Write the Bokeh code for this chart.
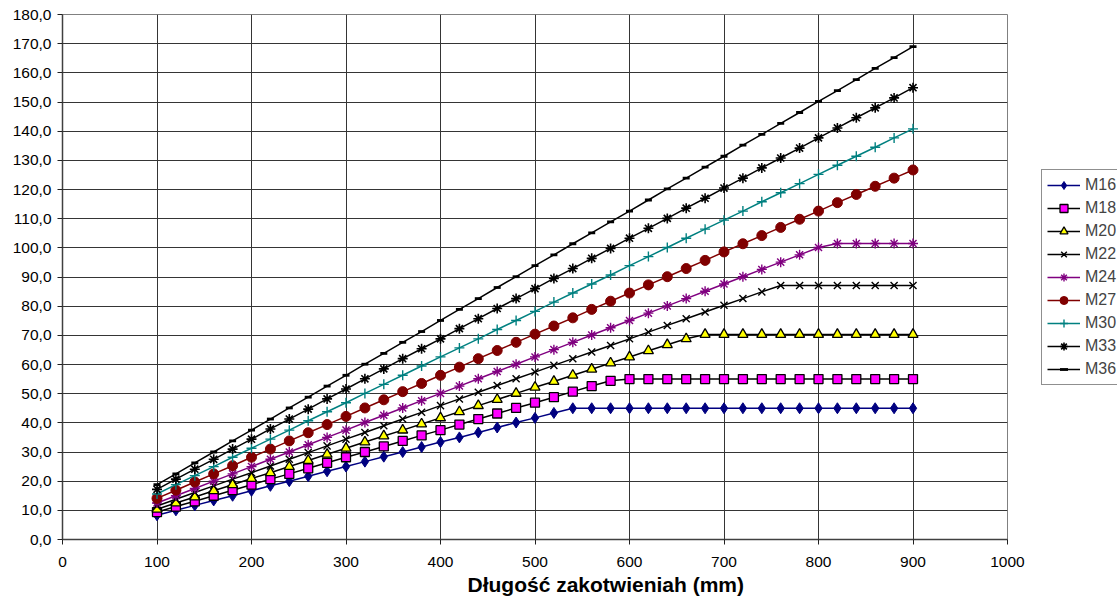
from bokeh.plotting import figure
from bokeh.layouts import row
from bokeh.models import Range1d, Legend, LegendItem, CustomJSTickFormatter, FixedTicker, Title
from bokeh.embed import file_html
from bokeh.resources import INLINE

lengths = list(range(100, 901, 20))

m16 = [8.3, 10.0, 11.7, 13.4, 15.0, 16.7, 18.4, 20.0, 21.7, 23.4, 25.0, 26.7, 28.4, 30.0, 31.7, 33.4,
       35.0, 36.7, 38.4, 40.1, 41.7, 43.4] + [45.0] * 19
m18 = [9.4, 11.3, 13.1, 15.0, 16.9, 18.8, 20.7, 22.5, 24.4, 26.3, 28.2, 30.0, 31.9, 33.8, 35.7, 37.5,
       39.4, 41.3, 43.2, 45.1, 46.9, 48.8, 50.7, 52.6, 54.4] + [55.0] * 16
m20 = [10.4, 12.5, 14.6, 16.7, 18.8, 20.9, 22.9, 25.0, 27.1, 29.2, 31.3, 33.4, 35.5, 37.5, 39.6, 41.7,
       43.8, 45.9, 48.0, 50.1, 52.2, 54.2, 56.3, 58.4, 60.5, 62.6, 64.7, 66.8, 68.8] + [70.3] * 12
m22 = [11.5, 13.8, 16.1, 18.4, 20.7, 22.9, 25.2, 27.5, 29.8, 32.1, 34.4, 36.7, 39.0, 41.3, 43.6, 45.9,
       48.2, 50.5, 52.8, 55.1, 57.4, 59.7, 62.0, 64.3, 66.5, 68.8, 71.1, 73.4, 75.7, 78.0, 80.3, 82.6,
       84.9] + [87.1] * 8
m24 = [12.5, 15.0, 17.5, 20.0, 22.5, 25.0, 27.5, 30.0, 32.5, 35.0, 37.5, 40.1, 42.6, 45.1, 47.6, 50.1,
       52.6, 55.1, 57.6, 60.1, 62.6, 65.1, 67.6, 70.1, 72.6, 75.1, 77.6, 80.1, 82.6, 85.1, 87.6, 90.1,
       92.6, 95.1, 97.6, 100.1] + [101.5] * 5
m27 = [14.1, 16.9, 19.7, 22.5, 25.3, 28.2, 31.0, 33.8, 36.6, 39.4, 42.2, 45.1, 47.9, 50.7, 53.5, 56.3,
       59.1, 62.0, 64.8, 67.6, 70.4, 73.2, 76.0, 78.9, 81.7, 84.5, 87.3, 90.1, 92.9, 95.7, 98.6, 101.4,
       104.2, 107.0, 109.8, 112.6, 115.5, 118.3, 121.1, 123.9, 126.7]
m30 = [15.6, 18.8, 21.9, 25.0, 28.2, 31.3, 34.4, 37.5, 40.7, 43.8, 46.9, 50.1, 53.2, 56.3, 59.5, 62.6,
       65.7, 68.8, 72.0, 75.1, 78.2, 81.4, 84.5, 87.6, 90.7, 93.9, 97.0, 100.1, 103.3, 106.4, 109.5,
       112.6, 115.8, 118.9, 122.0, 125.2, 128.3, 131.4, 134.5, 137.7, 140.8]
m33 = [17.2, 20.7, 24.1, 27.5, 31.0, 34.4, 37.9, 41.3, 44.7, 48.2, 51.6, 55.1, 58.5, 62.0, 65.4, 68.8,
       72.3, 75.7, 79.2, 82.6, 86.0, 89.5, 92.9, 96.4, 99.8, 103.3, 106.7, 110.1, 113.6, 117.0, 120.5,
       123.9, 127.4, 130.8, 134.2, 137.7, 141.1, 144.6, 148.0, 151.4, 154.9]
m36 = [18.8, 22.5, 26.3, 30.0, 33.8, 37.5, 41.3, 45.1, 48.8, 52.6, 56.3, 60.1, 63.8, 67.6, 71.3, 75.1,
       78.9, 82.6, 86.4, 90.1, 93.9, 97.6, 101.4, 105.1, 108.9, 112.6, 116.4, 120.2, 123.9, 127.7, 131.4,
       135.2, 138.9, 142.7, 146.4, 150.2, 153.9, 157.7, 161.5, 165.2, 169.0]

series_names = ["M16", "M18", "M20", "M22", "M24", "M27", "M30", "M33", "M36"]
series_values = [m16, m18, m20, m22, m24, m27, m30, m33, m36]
x_ticks = list(range(0, 1001, 100))
y_ticks = list(range(0, 181, 10))
x_title = "Długość zakotwieniah (mm)"

styles = {
    "M16": dict(line="#000080", marker="diamond", fill="#000080", edge="#000080", size=11, lw=1),
    "M18": dict(line="#000000", marker="square", fill="#FF00FF", edge="#000000", size=9, lw=1.3),
    "M20": dict(line="#000000", marker="triangle", fill="#FFFF00", edge="#000000", size=10, lw=1.3),
    "M22": dict(line="#000000", marker="x", fill="#000000", edge="#000000", size=10, lw=1.4),
    "M24": dict(line="#800080", marker="asterisk", fill="#800080", edge="#800080", size=10, lw=1.4),
    "M27": dict(line="#800000", marker="circle", fill="#800000", edge="#800000", size=10, lw=1),
    "M30": dict(line="#008080", marker="cross", fill="#008080", edge="#008080", size=10, lw=1.4),
    "M33": dict(line="#000000", marker="asterisk", fill="#000000", edge="#000000", size=10, lw=1.6),
    "M36": dict(line="#000000", marker="dash", fill="#000000", edge="#000000", size=7, lw=2.8),
}

FONT = "Liberation Sans"

p = figure(frame_width=945, frame_height=525, output_backend="svg", toolbar_location=None,
           x_range=Range1d(0, 1000), y_range=Range1d(0, 180),
           min_border_left=62, min_border_right=23, min_border_top=14, min_border_bottom=58)

p.background_fill_color = "white"
p.border_fill_color = "white"
p.outline_line_color = "#808080"
p.outline_line_width = 1

p.xgrid.grid_line_color = "#353535"
p.ygrid.grid_line_color = "#353535"
p.xgrid.grid_line_width = 1
p.ygrid.grid_line_width = 1

p.xaxis.ticker = FixedTicker(ticks=x_ticks)
p.yaxis.ticker = FixedTicker(ticks=y_ticks)
p.yaxis.formatter = CustomJSTickFormatter(code="return tick.toFixed(1).replace('.', ',');")
for ax in (p.xaxis[0], p.yaxis[0]):
    ax.axis_line_color = "#404040"
    ax.axis_line_width = 1.5
    ax.major_tick_line_color = "#202020"
    ax.major_tick_out = 5
    ax.major_tick_in = 0
    ax.minor_tick_line_color = None
    ax.major_label_text_font = FONT
    ax.major_label_text_font_size = "15.5px"
    ax.major_label_text_color = "black"
p.xaxis.major_label_standoff = 12
p.yaxis.major_label_standoff = 6

title = Title(text=x_title, align="left", offset=405, standoff=2,
              text_font=FONT, text_font_size="21px", text_font_style="bold", text_color="black")
p.add_layout(title, "below")

for name, vals in zip(series_names, series_values):
    st = styles[name]
    p.line(lengths, vals, line_color=st["line"], line_width=1.5)
    p.scatter(lengths, vals, marker=st["marker"], size=st["size"],
              fill_color=st["fill"], line_color=st["edge"], line_width=st["lw"])

# Legend panel (separate canvas so the box can sit outside the plot area).
# Its renderers hold the same series but lie outside this canvas' tiny range,
# so only their legend swatches are visible.
lg = figure(width=87, height=597, output_backend="svg", toolbar_location=None,
            x_axis_type=None, y_axis_type=None, x_range=Range1d(0, 1), y_range=Range1d(0, 1),
            min_border=0, min_border_left=0, min_border_right=0, min_border_top=0, min_border_bottom=0)
lg.outline_line_color = None
lg.xgrid.visible = False
lg.ygrid.visible = False
items = []
for name, vals in zip(series_names, series_values):
    st = styles[name]
    r1 = lg.line(lengths, vals, line_color=st["line"], line_width=1.5)
    r2 = lg.scatter(lengths, vals, marker=st["marker"], size=st["size"],
                    fill_color=st["fill"], line_color=st["edge"], line_width=st["lw"])
    items.append(LegendItem(label=name, renderers=[r1, r2]))

legend = Legend(items=items, location=(11, 154), border_line_color="#202020", border_line_width=1,
                background_fill_color="white", label_text_font=FONT, label_text_font_size="16px",
                glyph_width=33, glyph_height=20, spacing=3, padding=5, margin=0,
                label_standoff=5, label_height=20)
lg.add_layout(legend, "center")

layout = row(p, lg, spacing=0)
open("out.html", "w").write(file_html(layout, INLINE))
